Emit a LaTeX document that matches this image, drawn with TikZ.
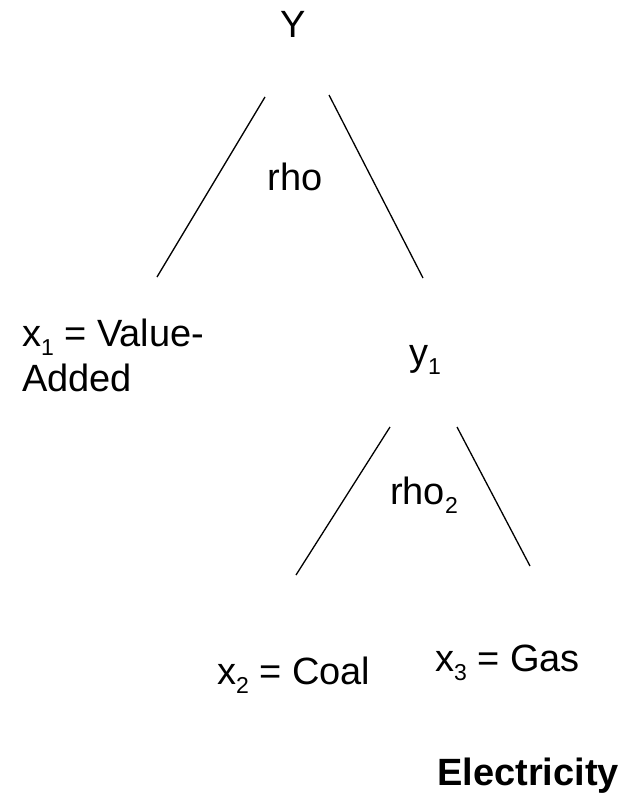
\documentclass[tikz,border=0pt]{standalone}
\usepackage{fontspec}
\setmainfont{Liberation Sans}
\newcommand{\mysub}[1]{\raisebox{-0.25em}{\fontsize{23}{23}\selectfont #1}}
\begin{document}
\begin{tikzpicture}[x=1pt,y=-1pt,
  lbl/.style={inner sep=0pt,font=\fontsize{38}{45}\selectfont},
  edge/.style={line width=1.3pt}]
\useasboundingbox (0,0) rectangle (627,797);
\node[lbl] (Y) at (293,24) {Y};
\node[lbl] (rho) at (295,177) {rho};
\node[lbl,anchor=west,align=left] (x1) at (22,355) {x\mysub{1} = Value-\\Added};
\node[lbl] (y1) at (425,360) {y\mysub{1}};
\node[lbl] (rho2) at (424,495) {rho\mysub{2}};
\node[lbl,anchor=west] (x2) at (217,675) {x\mysub{2} = Coal};
\node[lbl,anchor=west] (x3) at (435,663) {x\mysub{3} = Gas};
\node[lbl,anchor=west,font=\fontsize{38}{45}\selectfont\bfseries] (el) at (437,776) {Electricity};
\coordinate (a1) at (265,97);
\coordinate (a2) at (157,277);
\coordinate (b1) at (329,95);
\coordinate (b2) at (423,278);
\coordinate (c1) at (390,427);
\coordinate (c2) at (296,575);
\coordinate (d1) at (457,427);
\coordinate (d2) at (530,566);
\draw[edge] (a1) -- (a2);
\draw[edge] (b1) -- (b2);
\draw[edge] (c1) -- (c2);
\draw[edge] (d1) -- (d2);
\end{tikzpicture}
\end{document}
